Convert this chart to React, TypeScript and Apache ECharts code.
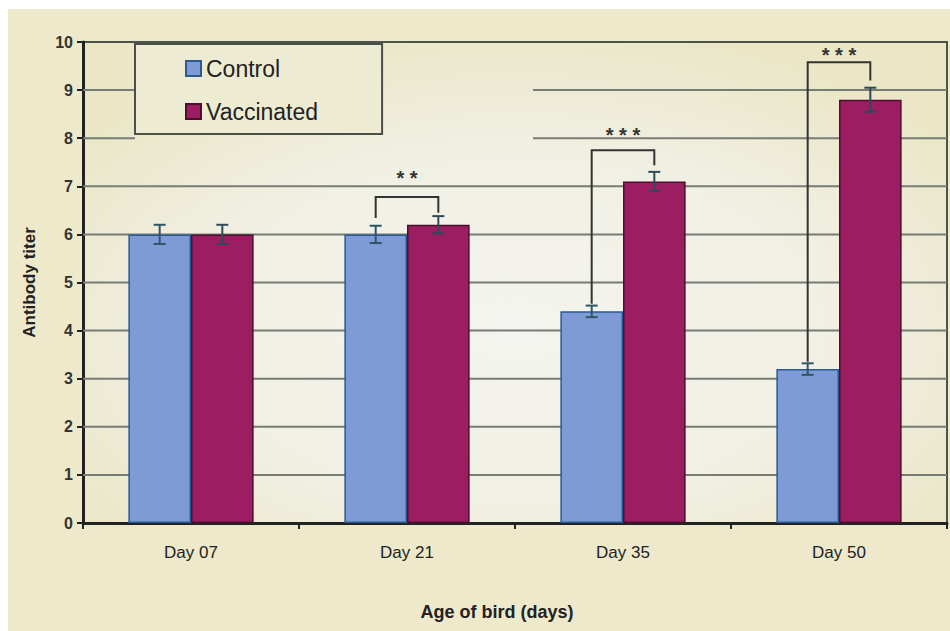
import React, { useEffect, useRef } from "react";
import * as echarts from "echarts";

const categories = ["Day 07", "Day 21", "Day 35", "Day 50"];
const controlValues = [6.0, 6.0, 4.4, 3.2];
const vaccinatedValues = [6.0, 6.2, 7.1, 8.8];
const controlErrors = [0.2, 0.18, 0.12, 0.12];
const vaccinatedErrors = [0.2, 0.18, 0.2, 0.25];

const bracketCategories = [1, 2, 3];
const bracketLeftEnd = [6.34, 4.56, 3.35];
const bracketRightEnd = [6.45, 7.44, 9.2];
const bracketTop = [6.78, 7.75, 9.58];
const bracketStarLevel = [7.28, 8.17, 9.83];
const bracketLabels = ["* *", "* * *", "* * *"];

const yTicks = [0, 1, 2, 3, 4, 5, 6, 7, 8, 9, 10];
const gridLineValues = [1, 2, 3, 4, 5, 6, 7, 8, 9];
const interruptedGridLines = [8, 9];

const FONT = "'Liberation Sans', Arial, sans-serif";
const BAR_FRAC = 0.29;

export default function App() {
  const ref = useRef<HTMLDivElement>(null);

  useEffect(() => {
    if (!ref.current) return;
    const chart = echarts.init(ref.current, null, { renderer: "svg" });

    const errorSeries = (name: string, values: number[], errs: number[], sign: number, color: string) => ({
      type: "custom",
      name,
      z: 5,
      data: values.map((v, i) => [i, v, errs[i]]),
      renderItem: (params: any, api: any) => {
        const idx = api.value(0);
        const v = api.value(1);
        const e = api.value(2);
        const band = api.size([1, 0])[0];
        const off = (sign * band * BAR_FRAC) / 2;
        const top = api.coord([idx, v + e]);
        const bot = api.coord([idx, v - e]);
        const x = top[0] + off;
        const cap = 6;
        const st = { stroke: color, lineWidth: 2 };
        return {
          type: "group",
          children: [
            { type: "line", shape: { x1: x, y1: top[1], x2: x, y2: bot[1] }, style: st },
            { type: "line", shape: { x1: x - cap, y1: top[1], x2: x + cap, y2: top[1] }, style: st },
            { type: "line", shape: { x1: x - cap, y1: bot[1], x2: x + cap, y2: bot[1] }, style: st },
          ],
        };
      },
    });

    const option: any = {
      animation: false,
      backgroundColor: "#EDE9CA",
      textStyle: { fontFamily: FONT },
      grid: {
        left: 75,
        right: 3,
        top: 33,
        bottom: 108,
        show: true,
        borderColor: "#4C5449",
        borderWidth: 2,
        backgroundColor: {
          type: "radial",
          x: 0.5,
          y: 0.6,
          r: 0.65,
          colorStops: [
            { offset: 0, color: "#F4F4F0" },
            { offset: 0.55, color: "#F1F0E4" },
            { offset: 1, color: "#EAE6C6" },
          ],
        },
      },
      legend: {
        orient: "vertical",
        left: 127,
        top: 35,
        data: ["Control", "Vaccinated"],
        icon: "rect",
        itemWidth: 15,
        itemHeight: 15,
        itemGap: 20,
        padding: [13, 64, 11, 50],
        backgroundColor: "#EEEBD3",
        borderColor: "#4A4F48",
        borderWidth: 2,
        borderRadius: 0,
        textStyle: { fontSize: 23, color: "#222", fontFamily: FONT },
      },
      xAxis: {
        type: "category",
        data: categories,
        name: "Age of bird (days)",
        nameLocation: "middle",
        nameGap: 80,
        nameTextStyle: { fontSize: 18, fontWeight: "bold", color: "#222", padding: [0, 36, 0, 0] },
        axisLine: { lineStyle: { color: "#222", width: 3 } },
        axisTick: { show: true, length: 6, lineStyle: { color: "#222", width: 2 } },
        axisLabel: { fontSize: 17, color: "#222", margin: 21 },
      },
      yAxis: {
        type: "value",
        min: 0,
        max: 10,
        interval: 1,
        name: "Antibody titer",
        nameLocation: "middle",
        nameRotate: 90,
        nameGap: 45,
        nameTextStyle: { fontSize: 17, fontWeight: "bold", color: "#222" },
        axisLine: { show: true, lineStyle: { color: "#222", width: 3 } },
        axisTick: { show: true, length: 6, lineStyle: { color: "#222", width: 2 } },
        axisLabel: {
          fontSize: 16,
          fontWeight: "bold",
          color: "#333",
          margin: 10,
          formatter: (v: number) => (yTicks.includes(v) ? String(v) : ""),
        },
        splitLine: { show: false },
      },
      series: [
        {
          type: "custom",
          name: "Gridlines",
          z: 1,
          silent: true,
          data: gridLineValues.map((v) => [0, v]),
          renderItem: (params: any, api: any) => {
            const cs = params.coordSys;
            const y = api.coord([0, api.value(1)])[1];
            const st = { stroke: "#777C74", lineWidth: 2 };
            const left = cs.x;
            const right = cs.x + cs.width;
            if (interruptedGridLines.includes(api.value(1))) {
              return {
                type: "group",
                children: [
                  { type: "line", shape: { x1: left, y1: y, x2: left + 52, y2: y }, style: st },
                  { type: "line", shape: { x1: left + 450, y1: y, x2: right, y2: y }, style: st },
                ],
              };
            }
            return { type: "line", shape: { x1: left, y1: y, x2: right, y2: y }, style: st };
          },
        },
        {
          type: "bar",
          name: "Control",
          data: controlValues,
          barWidth: "29%",
          barGap: "0%",
          z: 3,
          itemStyle: { color: "#7F9BD5", borderColor: "#2B5A95", borderWidth: 1.5 },
        },
        {
          type: "bar",
          name: "Vaccinated",
          data: vaccinatedValues,
          barWidth: "29%",
          barGap: "0%",
          z: 3,
          itemStyle: { color: "#9C1D62", borderColor: "#4E0E2E", borderWidth: 1.5 },
        },
        errorSeries("ControlErr", controlValues, controlErrors, -1, "#2F5566"),
        errorSeries("VaccinatedErr", vaccinatedValues, vaccinatedErrors, 1, "#2F4A55"),
        {
          type: "custom",
          name: "Significance",
          z: 6,
          data: bracketCategories.map((c, i) => [c, bracketLeftEnd[i], bracketRightEnd[i], bracketTop[i], bracketStarLevel[i]]),
          renderItem: (params: any, api: any) => {
            const idx = api.value(0);
            const band = api.size([1, 0])[0];
            const off = (band * BAR_FRAC) / 2;
            const center = api.coord([idx, 0])[0];
            const xl = center - off;
            const xr = center + off;
            const yl = api.coord([idx, api.value(1)])[1];
            const yr = api.coord([idx, api.value(2)])[1];
            const yt = api.coord([idx, api.value(3)])[1];
            const ys = api.coord([idx, api.value(4)])[1];
            return {
              type: "group",
              children: [
                {
                  type: "polyline",
                  shape: { points: [[xl, yl], [xl, yt], [xr, yt], [xr, yr]] },
                  style: { stroke: "#333", lineWidth: 2, fill: "none" },
                },
                {
                  type: "text",
                  x: (xl + xr) / 2,
                  y: ys + 5,
                  style: {
                    text: bracketLabels[params.dataIndex],
                    fill: "#333",
                    font: `bold 20px ${FONT}`,
                    textAlign: "center",
                    textVerticalAlign: "middle",
                  },
                },
              ],
            };
          },
        },
      ],
    };

    chart.setOption(option);
    return () => chart.dispose();
  }, []);

  return (
    <div
      ref={ref}
      style={{ position: "absolute", left: 8, top: 9, width: 942, height: 622 }}
    />
  );
}
